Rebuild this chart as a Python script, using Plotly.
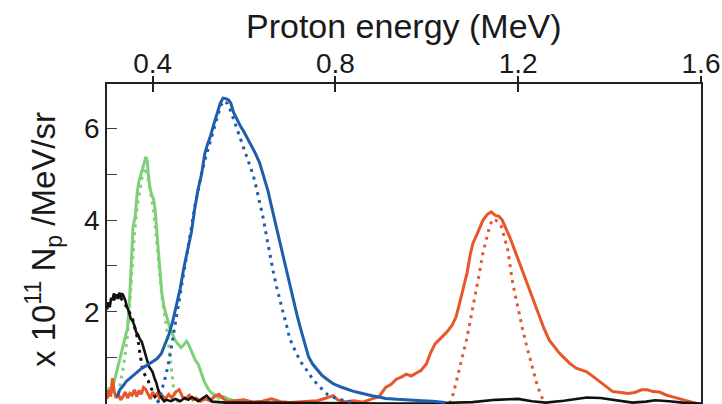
import plotly.graph_objects as go

# Proton spectra: energy (MeV) vs yield (x 1e11 protons / MeV / sr)
green_e = [0.300, 0.305, 0.310, 0.315, 0.320, 0.325, 0.330, 0.335, 0.340, 0.345,
           0.350, 0.353, 0.357, 0.362, 0.366, 0.370, 0.375, 0.380, 0.385, 0.388,
           0.391, 0.394, 0.398, 0.402, 0.405, 0.408, 0.412, 0.416, 0.420, 0.425,
           0.430, 0.436, 0.442, 0.448, 0.455, 0.462, 0.468, 0.474, 0.478, 0.483,
           0.488, 0.493, 0.500, 0.506, 0.512, 0.518, 0.524, 0.530, 0.538, 0.545,
           0.555, 0.565, 0.580, 0.600, 0.620, 0.650, 0.700]
green_y = [0.15, 0.35, 0.25, 0.45, 0.65, 0.80, 1.00, 1.25, 1.45, 1.65,
           2.40, 3.20, 3.85, 4.10, 4.60, 4.85, 5.05, 5.20, 5.38, 5.30,
           4.95, 4.70, 4.55, 4.45, 4.25, 3.85, 3.30, 2.80, 2.40, 2.10,
           1.90, 1.70, 1.55, 1.40, 1.30, 1.22, 1.28, 1.36, 1.30, 1.18,
           1.05, 0.95, 0.85, 0.65, 0.50, 0.38, 0.28, 0.22, 0.18, 0.12,
           0.15, 0.10, 0.06, 0.05, 0.03, 0.02, 0.00]

green_fit_e = [0.325, 0.330, 0.335, 0.340, 0.345, 0.350, 0.355, 0.360, 0.366, 0.372,
               0.378, 0.384, 0.390, 0.396, 0.402, 0.408, 0.414, 0.420, 0.426, 0.432,
               0.437, 0.441, 0.445, 0.450, 0.456]
green_fit_y = [0.20, 0.45, 0.75, 1.10, 1.50, 2.20, 3.00, 3.70, 4.30, 4.70,
               5.00, 5.15, 4.90, 4.55, 4.20, 3.60, 2.90, 2.35, 1.95, 1.55,
               1.10, 0.75, 0.40, 0.15, 0.02]

blue_e = [0.322, 0.328, 0.335, 0.342, 0.350, 0.358, 0.366, 0.375, 0.385, 0.395,
          0.402, 0.410, 0.419, 0.428, 0.436, 0.444, 0.452, 0.460, 0.468, 0.476,
          0.485, 0.492, 0.500, 0.507, 0.514, 0.520, 0.527, 0.534, 0.541, 0.548,
          0.554, 0.560, 0.566, 0.571, 0.577, 0.584, 0.592, 0.600, 0.608, 0.616,
          0.625, 0.634, 0.643, 0.652, 0.660, 0.668, 0.676, 0.684, 0.692, 0.700,
          0.708, 0.716, 0.724, 0.732, 0.741, 0.750, 0.760, 0.770, 0.780, 0.795,
          0.812, 0.825, 0.838, 0.850, 0.865, 0.880, 0.895, 0.910, 0.935, 0.960,
          0.990, 1.013, 1.040]
blue_y = [0.15, 0.30, 0.38, 0.48, 0.55, 0.62, 0.70, 0.76, 0.82, 0.88,
          0.92, 0.98, 1.09, 1.30, 1.52, 1.80, 2.15, 2.50, 2.95, 3.35,
          3.75, 4.25, 4.70, 5.00, 5.45, 5.65, 5.85, 6.10, 6.35, 6.55,
          6.66, 6.65, 6.62, 6.55, 6.35, 6.20, 6.05, 5.92, 5.78, 5.62,
          5.45, 5.25, 4.95, 4.65, 4.30, 3.95, 3.60, 3.25, 2.90, 2.58,
          2.25, 1.92, 1.62, 1.35, 1.02, 0.86, 0.74, 0.62, 0.54, 0.43,
          0.36, 0.31, 0.27, 0.24, 0.20, 0.17, 0.14, 0.11, 0.09, 0.07,
          0.06, 0.05, 0.02]

blue_fit_e = [0.410, 0.416, 0.423, 0.430, 0.437, 0.443, 0.449, 0.455, 0.461, 0.467,
              0.473, 0.479, 0.485, 0.492, 0.500, 0.507, 0.514, 0.521, 0.528, 0.535,
              0.542, 0.549, 0.556, 0.563, 0.570, 0.577, 0.584, 0.591, 0.598, 0.606,
              0.613, 0.620, 0.627, 0.634, 0.642, 0.649, 0.656, 0.664, 0.671, 0.678,
              0.685, 0.693, 0.700, 0.707, 0.714, 0.723, 0.732, 0.741, 0.751, 0.762,
              0.772, 0.782, 0.794, 0.806, 0.820, 0.835]
blue_fit_y = [0.02, 0.15, 0.40, 0.66, 1.00, 1.35, 1.68, 2.05, 2.40, 2.75,
              3.10, 3.50, 3.86, 4.30, 4.70, 5.02, 5.30, 5.55, 5.80, 6.05,
              6.30, 6.50, 6.60, 6.55, 6.40, 6.20, 6.00, 5.82, 5.64, 5.40,
              5.20, 4.98, 4.70, 4.40, 4.04, 3.65, 3.25, 2.87, 2.55, 2.25,
              2.00, 1.70, 1.42, 1.25, 1.10, 0.92, 0.80, 0.66, 0.52, 0.40,
              0.30, 0.20, 0.14, 0.10, 0.06, 0.03]

red_e = [0.300, 0.304, 0.308, 0.312, 0.316, 0.320, 0.325, 0.330, 0.335, 0.340,
         0.345, 0.350, 0.355, 0.360, 0.365, 0.370, 0.375, 0.380, 0.385, 0.390,
         0.395, 0.400, 0.405, 0.410, 0.415, 0.420, 0.428, 0.435, 0.442, 0.450,
         0.458, 0.465, 0.472, 0.480, 0.488, 0.495, 0.505, 0.515, 0.525, 0.535,
         0.545, 0.555, 0.565, 0.580, 0.600, 0.620, 0.640, 0.660, 0.680, 0.700,
         0.720, 0.740, 0.760, 0.780, 0.795, 0.805, 0.820, 0.840, 0.860, 0.880,
         0.895, 0.910, 0.922, 0.933, 0.945, 0.955, 0.966, 0.976, 0.987, 0.999,
         1.008, 1.018, 1.030, 1.043, 1.055, 1.064, 1.072, 1.080, 1.088, 1.095,
         1.101, 1.108, 1.116, 1.123, 1.132, 1.141, 1.150, 1.158, 1.165, 1.172,
         1.181, 1.192, 1.203, 1.214, 1.225, 1.236, 1.246, 1.257, 1.268, 1.280,
         1.290, 1.300, 1.312, 1.327, 1.340, 1.350, 1.365, 1.378, 1.392, 1.407,
         1.425, 1.440, 1.455, 1.470, 1.483, 1.495, 1.509, 1.525, 1.540, 1.555,
         1.570, 1.590]
red_y = [0.10, 0.30, 0.15, 0.55, 0.25, 0.12, 0.20, 0.08, 0.15, 0.25,
         0.12, 0.22, 0.18, 0.30, 0.15, 0.28, 0.20, 0.35, 0.30, 0.18,
         0.10, 0.25, 0.15, 0.22, 0.12, 0.18, 0.10, 0.20, 0.12, 0.25,
         0.30, 0.15, 0.10, 0.18, 0.08, 0.12, 0.05, 0.10, 0.06, 0.15,
         0.20, 0.10, 0.04, 0.06, 0.08, 0.03, 0.05, 0.10, 0.04, 0.02,
         0.03, 0.05, 0.06, 0.12, 0.17, 0.08, 0.04, 0.06, 0.03, 0.10,
         0.15, 0.35, 0.42, 0.53, 0.58, 0.64, 0.60, 0.66, 0.72, 0.86,
         1.10, 1.30, 1.42, 1.55, 1.70, 1.89, 2.20, 2.55, 2.85, 3.25,
         3.50, 3.65, 3.85, 4.00, 4.12, 4.18, 4.10, 4.08, 4.00, 3.85,
         3.64, 3.35, 3.06, 2.78, 2.48, 2.18, 1.89, 1.62, 1.38, 1.22,
         1.10, 1.00, 0.88, 0.77, 0.72, 0.69, 0.58, 0.48, 0.36, 0.26,
         0.24, 0.22, 0.24, 0.30, 0.30, 0.26, 0.25, 0.18, 0.14, 0.10,
         0.05, 0.00]

red_fit_e = [1.050, 1.058, 1.065, 1.072, 1.079, 1.087, 1.094, 1.101, 1.108, 1.115,
             1.122, 1.130, 1.137, 1.144, 1.150, 1.157, 1.163, 1.170, 1.177, 1.183,
             1.188, 1.196, 1.203, 1.210, 1.217, 1.225, 1.232, 1.240, 1.247, 1.254,
             1.260]
red_fit_y = [0.00, 0.22, 0.50, 0.78, 1.02, 1.40, 1.75, 2.10, 2.50, 2.84,
             3.25, 3.57, 3.85, 4.02, 4.00, 3.95, 3.86, 3.62, 3.35, 2.95,
             2.62, 2.25, 1.89, 1.60, 1.31, 1.02, 0.73, 0.45, 0.25, 0.08,
             0.00]

black_e = [0.300, 0.303, 0.306, 0.309, 0.312, 0.315, 0.318, 0.321, 0.324, 0.327,
           0.330, 0.333, 0.336, 0.340, 0.344, 0.348, 0.352, 0.356, 0.360, 0.364,
           0.368, 0.372, 0.376, 0.380, 0.384, 0.388, 0.392, 0.396, 0.400, 0.404,
           0.408, 0.412, 0.416, 0.420, 0.425, 0.430, 0.440, 0.450, 0.460, 0.470,
           0.478, 0.486, 0.492, 0.500, 0.510, 0.518, 0.530, 0.560, 0.600, 0.700,
           0.800, 0.900, 1.000, 1.060, 1.100, 1.150, 1.180, 1.200, 1.230, 1.260,
           1.300, 1.330, 1.350, 1.380, 1.420, 1.450, 1.480, 1.500, 1.530, 1.560,
           1.600]
black_y = [2.05, 2.20, 2.10, 2.30, 2.25, 2.40, 2.30, 2.38, 2.28, 2.42,
           2.30, 2.40, 2.35, 2.25, 2.10, 2.00, 1.85, 1.80, 1.70, 1.55,
           1.50, 1.40, 1.35, 1.20, 1.05, 0.95, 0.80, 0.75, 0.68, 0.55,
           0.45, 0.30, 0.20, 0.12, 0.05, 0.08, 0.05, 0.10, 0.05, 0.12,
           0.08, 0.14, 0.10, 0.05, 0.12, 0.17, 0.04, 0.02, 0.02, 0.01,
           0.01, 0.00, 0.00, 0.01, 0.03, 0.08, 0.10, 0.10, 0.05, 0.02,
           0.06, 0.11, 0.13, 0.12, 0.06, 0.02, 0.04, 0.07, 0.05, 0.02,
           0.00]

black_fit_e = [0.300, 0.310, 0.320, 0.330, 0.338, 0.345, 0.350, 0.356, 0.362, 0.368,
               0.372, 0.377, 0.383, 0.390, 0.396, 0.402, 0.408, 0.414]
black_fit_y = [2.15, 2.25, 2.30, 2.30, 2.20, 2.05, 1.95, 1.85, 1.60, 1.38,
               1.10, 0.80, 0.62, 0.50, 0.35, 0.20, 0.08, 0.02]

x_ticks = [0.4, 0.8, 1.2, 1.6]
x_tick_text = ["0.4", "0.8", "1.2", "1.6"]
y_ticks = [2, 4, 6]
y_tick_text = ["2", "4", "6"]

GREEN = "#7fcf78"
BLUE = "#1f5ead"
RED = "#e8562b"
BLACK = "#111111"
DOTS = "3px,5px"
FONT = "Liberation Sans, Arial, sans-serif"

fig = go.Figure()

series = [
    (green_e, green_y, GREEN, "solid", 3),
    (green_fit_e, green_fit_y, GREEN, DOTS, 3),
    (red_e, red_y, RED, "solid", 3),
    (red_fit_e, red_fit_y, RED, DOTS, 3),
    (black_e, black_y, BLACK, "solid", 2.6),
    (black_fit_e, black_fit_y, BLACK, DOTS, 3),
    (blue_fit_e, blue_fit_y, BLUE, DOTS, 3),
    (blue_e, blue_y, BLUE, "solid", 3),
]
for xs, ys, color, dash, width in series:
    fig.add_trace(go.Scatter(
        x=xs, y=ys, mode="lines",
        line=dict(color=color, width=width, dash=dash),
        showlegend=False, hoverinfo="skip",
    ))

# invisible helper trace so the inward-tick top axis gets drawn
fig.add_trace(go.Scatter(x=[0.3], y=[0], xaxis="x2", mode="markers",
                         marker=dict(opacity=0), showlegend=False, hoverinfo="skip"))

fig.update_layout(
    width=722, height=404,
    margin=dict(l=107, r=21, t=84, b=0),
    paper_bgcolor="white", plot_bgcolor="white",
    font=dict(family=FONT, color="#1a1a1a"),
    xaxis=dict(
        side="top", range=[0.3, 1.6],
        tickvals=x_ticks, ticktext=x_tick_text,
        ticks="outside", ticklen=6, tickwidth=1.5, tickcolor="#222",
        ticklabelstandoff=-8,
        tickfont=dict(size=28, family=FONT, color="#1a1a1a"),
        showline=True, linecolor="#222", linewidth=1.5,
        showgrid=False, zeroline=False,
    ),
    xaxis2=dict(
        overlaying="x", side="top", range=[0.3, 1.6],
        tickvals=x_ticks, ticks="inside", ticklen=8, tickwidth=1.5, tickcolor="#222",
        showticklabels=False, showline=False, showgrid=False, zeroline=False,
    ),
    yaxis=dict(
        range=[-0.011, 6.968],
        tickvals=y_ticks, ticktext=y_tick_text,
        ticks="inside", ticklen=10, tickwidth=1.2, tickcolor="#444",
        minor=dict(tickvals=[1, 3, 5], ticks="inside", ticklen=10,
                   tickwidth=1.2, tickcolor="#444", showgrid=False),
        tickfont=dict(size=28, family=FONT, color="#1a1a1a"),
        showline=True, linecolor="#222", linewidth=1.5, mirror=True,
        showgrid=False, zeroline=False,
    ),
    annotations=[
        dict(text="Proton energy (MeV)", xref="paper", yref="paper",
             x=0.5, y=1.18, xanchor="center", yanchor="middle", showarrow=False,
             font=dict(size=34, family=FONT, color="#1a1a1a")),
        dict(text="x 10<sup>11</sup> N<sub>p</sub> /MeV/sr", xref="paper", yref="paper",
             x=-0.1077, y=0.5125, xanchor="center", yanchor="middle", showarrow=False,
             textangle=-90,
             font=dict(size=33, family=FONT, color="#1a1a1a")),
    ],
)

fig.write_html("out.html")
